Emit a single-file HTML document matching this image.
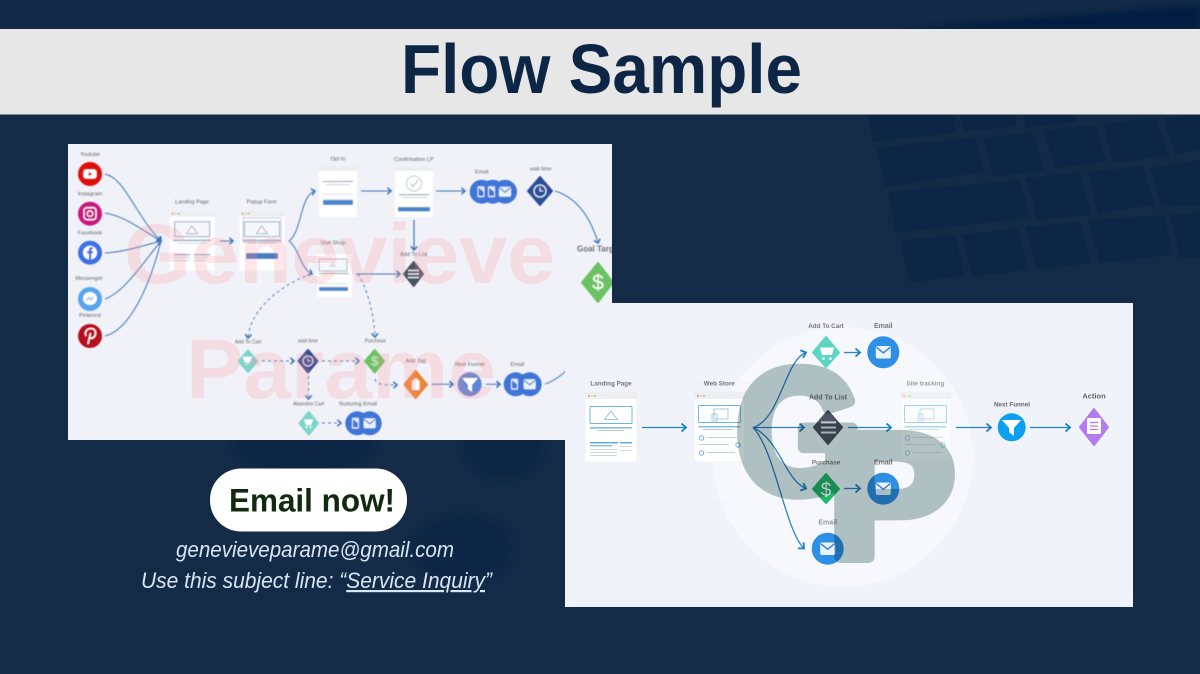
<!DOCTYPE html>
<html lang="en"><head><meta charset="utf-8"><title>Flow Sample</title>
<style>html,body{margin:0;padding:0;background:#142b47}svg{display:block}text{font-family:"Liberation Sans",sans-serif}</style></head>
<body>
<svg width="1200" height="674" viewBox="0 0 1200 674" xmlns="http://www.w3.org/2000/svg">
<defs>
<clipPath id="card1"><rect x="68" y="144" width="544" height="296"/></clipPath>
<filter id="b1" x="-5%" y="-5%" width="110%" height="110%"><feGaussianBlur stdDeviation="0.45"/></filter>
<filter id="b2" x="-5%" y="-5%" width="110%" height="110%"><feGaussianBlur stdDeviation="0.3"/></filter>
<filter id="b3" x="-20%" y="-20%" width="140%" height="140%"><feGaussianBlur stdDeviation="3"/></filter>
<marker id="a" viewBox="0 0 8 10" refX="6" refY="5" markerWidth="7" markerHeight="8" markerUnits="userSpaceOnUse" orient="auto"><path d="M1.5 1L6 5L1.5 9" fill="none" stroke="#3f74b8" stroke-width="2"/></marker>
<marker id="c" viewBox="0 0 8 10" refX="6" refY="5" markerWidth="8" markerHeight="10" markerUnits="userSpaceOnUse" orient="auto"><path d="M1.5 1L6 5L1.5 9" fill="none" stroke="#1f7fc0" stroke-width="1.8"/></marker>
<g id="mail"><rect x="-6" y="-5" width="12" height="10" rx="1.5" fill="#fff" opacity=".9"/><path d="M-5.500 -4L0 0.500L5.500 -4" fill="none" stroke="#3f7fe0" stroke-width="1.200"/></g>
<g id="phone"><rect x="-3.500" y="-5.500" width="7" height="11" rx="1" fill="#dfe8f7"/><path d="M-2.500 -4L2.500 0V4H-2.500Z" fill="#3f74d8"/></g>
<g id="win1"><rect width="45" height="60" fill="#fff"/><rect width="45" height="6" fill="#eceef2"/><circle cx="3" cy="3" r=".9" fill="#e66"/><circle cx="6" cy="3" r=".9" fill="#ec6"/><circle cx="9" cy="3" r=".9" fill="#6c6"/><rect x="5" y="11" width="35" height="15" fill="#f5f7fb" stroke="#6b93c4" stroke-width=".8"/><path d="M17 23L22 15L28 23Z" fill="none" stroke="#889" stroke-width=".6"/><rect x="4" y="29" width="37" height="1.200" fill="#6a95c8"/><rect x="8" y="32" width="29" height=".8" fill="#bcc8d8"/></g>
</defs>

<!-- background -->
<rect width="1200" height="674" fill="#142b47"/>
<rect width="1200" height="29" fill="#122a47"/>
<path d="M900 29L1200 5V29Z" fill="#041f3f" filter="url(#b3)"/>
<g fill="#0e2845" filter="url(#b2)">
<polygon points="868,115 955,115 955,133 873,142"/><polygon points="960,115 1015,115 1016,126 964,132"/><polygon points="1022,115 1075,115 1076,122 1026,128"/>
<polygon points="877,148 975,137 985,172 885,187"/><polygon points="983,138 1033,132 1045,170 993,177"/><polygon points="1043,130 1095,125 1107,162 1055,168"/><polygon points="1103,124 1155,118 1170,155 1113,163"/><polygon points="1163,118 1200,114 1200,150 1175,154"/>
<polygon points="888,192 1020,180 1030,218 895,233"/><polygon points="1026,178 1080,172 1092,215 1037,220"/><polygon points="1088,172 1142,166 1155,205 1098,213"/><polygon points="1150,168 1200,160 1200,205 1162,207"/>
<polygon points="900,240 955,235 965,275 910,283"/><polygon points="962,235 1018,228 1028,270 973,277"/><polygon points="1025,227 1080,222 1092,263 1037,270"/><polygon points="1088,220 1165,215 1172,255 1100,263"/><polygon points="1170,215 1200,212 1200,258 1180,258"/>
</g>
<g fill="#112845" filter="url(#b3)"><ellipse cx="304" cy="445" rx="72" ry="32"/><ellipse cx="503" cy="445" rx="42" ry="35"/><ellipse cx="462" cy="548" rx="52" ry="34"/></g>

<!-- banner -->
<rect x="0" y="29" width="1200" height="85.500" fill="#e7e7e7"/>
<text x="401" y="93" font-size="70" font-weight="700" fill="#0d2646" textLength="401" lengthAdjust="spacingAndGlyphs">Flow Sample</text>

<!-- CARD 1 -->
<rect x="68" y="144" width="544" height="296" fill="#f0f2f8"/>
<g clip-path="url(#card1)">
<g filter="url(#b1)">
<g font-size="5.500" fill="#666" text-anchor="middle">
<text x="90" y="156">Youtube</text><text x="90" y="195.500">Instagram</text><text x="90" y="234.500">Facebook</text><text x="89" y="280">Messenger</text><text x="90" y="317">Pinterest</text>
<text x="192" y="203.700">Landing Page</text><text x="261.700" y="203.700">Popup Form</text><text x="338" y="160.700">Opt In</text><text x="414" y="161">Confirmation LP</text><text x="481.700" y="173.300">Email</text><text x="540.700" y="170.700">wait time</text><text x="333" y="244.700">Visit Shop</text><text x="413.700" y="256">Add To List</text>
<text x="248" y="343.700" font-size="5">Add To Cart</text><text x="308" y="342.300" font-size="5">wait time</text><text x="375.300" y="342.300" font-size="5">Purchase</text><text x="415.700" y="362.700">Add Tag</text><text x="469.700" y="366">Next Funnel</text><text x="517.300" y="366">Email</text><text x="308.700" y="405.300" font-size="5">Abandon Cart</text><text x="358" y="405.300">Nurturing Email</text>
</g>
<text x="577" y="251.500" font-size="8" font-weight="700" fill="#6a6f76">Goal Target</text>

<!-- connectors -->
<g fill="none" stroke="#3f74b8" stroke-width="1">
<path d="M105 174C125 178 135 215 161 241" marker-end="url(#a)"/>
<path d="M105 213C125 216 145 232 161 241" marker-end="url(#a)"/>
<path d="M105 253C125 252 145 245 161 241" marker-end="url(#a)"/>
<path d="M105 299C125 292 145 260 161 241"/>
<path d="M105 336C130 330 150 285 161 241"/>
<path d="M220 241H233" marker-end="url(#a)"/>
<path d="M289 241C302 232 300 195 315 191" marker-end="url(#a)"/>
<path d="M289 241C300 250 300 268 312 274" marker-end="url(#a)"/>
<path d="M361 191H391" marker-end="url(#a)"/><path d="M436 191H465" marker-end="url(#a)"/>
<path d="M414 220V250" marker-end="url(#a)" stroke-width="1.200"/><path d="M356 274H400" marker-end="url(#a)"/>
<path d="M555 191C575 197 590 215 598 243" marker-end="url(#a)"/>
<path d="M432 384.300H453" marker-end="url(#a)"/><path d="M486 384.300H500" marker-end="url(#a)"/>
<path d="M545 384C552 382 558 378 566 371"/>
</g>
<g fill="none" stroke="#4f7fb8" stroke-width="1" stroke-dasharray="3 3">
<path d="M311 274C280 285 250 310 248 338" marker-end="url(#a)"/>
<path d="M358 274C368 290 374 315 375 337" marker-end="url(#a)"/>
<path d="M262 361H294" marker-end="url(#a)"/><path d="M322 361H359" marker-end="url(#a)"/>
<path d="M308.500 376V399" marker-end="url(#a)"/><path d="M375 379C376 385 385 385 397 385" marker-end="url(#a)"/>
<path d="M322 423H341" marker-end="url(#a)"/>
</g>

<!-- source icons -->
<circle cx="90" cy="174" r="12" fill="#e00b0b"/><rect x="83.500" y="169.500" width="13" height="9" rx="2.500" fill="#fff"/><path d="M88.500 171.700L92.500 174L88.500 176.300Z" fill="#d11"/>
<circle cx="90" cy="213.700" r="12" fill="#cb1480"/><rect x="84" y="207.700" width="12" height="12" rx="3" fill="none" stroke="#fff" stroke-width="1.300"/><circle cx="90" cy="213.700" r="2.800" fill="none" stroke="#fff" stroke-width="1.200"/>
<circle cx="90" cy="252.700" r="12" fill="#3a6fe6"/><circle cx="90" cy="252.700" r="7" fill="#fff"/><path d="M89 261V253.500H87V251H89V249.500C89 247.500 90.500 247 92.800 247.300V249.300C91.500 249.200 91.200 249.500 91.200 250.200V251H93L92.600 253.500H91.200V261Z" fill="#3a6fe6"/>
<circle cx="90" cy="299" r="12" fill="#57a5ee"/><ellipse cx="90" cy="298.500" rx="7" ry="6.500" fill="#fff"/><path d="M85.500 301L88.500 297L91 299L94.500 296L91.500 300.500L89 298.500Z" fill="#3f8ae0"/>
<circle cx="90" cy="336" r="12" fill="#b9111f"/><path d="M88 344L90.500 333M86 336C84 331 88 328.500 91 328.500C95 328.500 96.500 332 95 335.500C94 338 91 339 89.500 337.500" fill="none" stroke="#fff" stroke-width="1.600"/>

<!-- windows -->
<use href="#win1" x="169.700" y="210.700"/>
<g fill="#b9c8dc"><rect x="174" y="254" width="16" height="1.200" fill="#6a95c8"/><rect x="174" y="257" width="16" height="1"/><rect x="174" y="260" width="14" height="1"/><rect x="194" y="254" width="16" height="1.200" fill="#6a95c8"/><rect x="194" y="257" width="14" height="1"/><rect x="194" y="260" width="12" height="1"/></g>
<use href="#win1" x="239.500" y="210.700"/><rect x="243" y="218" width="38" height="24" fill="none" stroke="#8ea4bf" stroke-width=".6"/><rect x="246" y="253" width="32" height="6" fill="#4a7cc0"/>
<rect x="319" y="166" width="38" height="51" fill="#fff"/><rect x="319" y="166" width="38" height="5" fill="#eceef2"/><rect x="323" y="181" width="30" height="1" fill="#7d93a8"/><rect x="326" y="184" width="24" height="1" fill="#c7d0da"/><rect x="323" y="194" width="30" height=".8" fill="#d5dbe3"/><rect x="323" y="199" width="30" height=".8" fill="#d5dbe3"/><rect x="323" y="200" width="30" height="5" fill="#4a86cc"/>
<rect x="395" y="166" width="38" height="51" fill="#fff"/><rect x="395" y="166" width="38" height="5" fill="#eceef2"/><circle cx="414" cy="183.500" r="7.500" fill="none" stroke="#b5ccc5"/><path d="M410.500 183.500L413 186.500L418 180" fill="none" stroke="#9dc2b2"/><rect x="399" y="194" width="30" height="1.300" fill="#9fb3b0"/><rect x="401" y="197" width="26" height="1" fill="#ccd"/><rect x="398" y="207" width="32" height="4.500" fill="#4a86cc"/>
<rect x="317" y="250" width="35" height="47" fill="#fff"/><rect x="317" y="250" width="35" height="4" fill="#eceef2"/><rect x="319" y="259" width="28" height="12" fill="#f5f7fb" stroke="#7e94b0" stroke-width=".7"/><path d="M329 267L333 262L337 267Z" fill="#ddd"/><rect x="319" y="273" width="30" height="1" fill="#7d93a8"/><rect x="319" y="283" width="30" height=".8" fill="#d5dbe3"/><rect x="319" y="287" width="29" height="4" fill="#4a86cc"/>

<!-- nodes -->
<g fill="#3f74d8"><circle cx="481.700" cy="191.700" r="12"/><circle cx="492.700" cy="191.700" r="12"/><circle cx="505" cy="191.700" r="12"/></g>
<use href="#phone" x="481" y="191.700"/><use href="#phone" x="491.500" y="191.700"/><use href="#mail" x="505" y="191.700"/>
<path d="M540 177L552 191L540 205L528 191Z" fill="#2c5096" stroke="#2c5096" stroke-width="2" stroke-linejoin="round"/><circle cx="540" cy="191" r="6" fill="none" stroke="#dfe8f5" stroke-width="1.300"/><path d="M540 187.500V191H543" fill="none" stroke="#dfe8f5"/>
<path d="M413.700 262L423 274L413.700 286L404 274Z" fill="#4a5260" stroke="#4a5260" stroke-width="2" stroke-linejoin="round"/><path d="M408 270.500H419M408 274H419M408 277.500H419" stroke="#e8ebef" stroke-width="1.400"/>
<path d="M598 263L613 282.500L598 302L582 282.500Z" fill="#6cc264" stroke="#6cc264" stroke-width="2" stroke-linejoin="round"/>
<text x="598" y="289.500" font-size="21" fill="#fff" text-anchor="middle">$</text>

<path d="M248 350.500L257 361.300L248 372L239 361.300Z" fill="#7cd4cb" stroke="#7cd4cb" stroke-linejoin="round" stroke-width="2"/><path d="M243 357H252L250 362.500H245ZM245 364.500H250" fill="#fff" stroke="#fff" stroke-width=".5"/>
<path d="M308 350L317.500 361L308 372.500L298.500 361Z" fill="#2f4d93" stroke="#2f4d93" stroke-linejoin="round" stroke-width="2"/><circle cx="308" cy="361" r="5" fill="none" stroke="#dfe8f5"/><path d="M308 358V361H310.500" fill="none" stroke="#dfe8f5" stroke-width=".8"/>
<path d="M374.700 350L384 361L374.700 372.500L365 361Z" fill="#6cc264" stroke="#6cc264" stroke-linejoin="round" stroke-width="2"/><text x="374.700" y="365.500" font-size="13" fill="#d5ecd0" text-anchor="middle">$</text>
<path d="M415.700 371L427 384.500L415.700 398L404.500 384.500Z" fill="#ec8430" stroke="#ec8430" stroke-linejoin="round" stroke-width="2"/><path d="M412 381L415.700 378L419.500 381V390H412Z" fill="#fff"/>
<circle cx="469.700" cy="384.300" r="12" fill="#5b86d8"/><path d="M462 378H478L472 385V392L468 389V385Z" fill="#fff"/>
<g fill="#3f74d8"><circle cx="515.700" cy="384.300" r="12"/><circle cx="529.700" cy="384.300" r="12"/></g><use href="#phone" x="514.500" y="384.300"/><use href="#mail" x="529.700" y="384.300"/>
<path d="M308.700 412L318 423.300L308.700 434.500L299.500 423.300Z" fill="#7cd4cb" stroke="#7cd4cb" stroke-linejoin="round" stroke-width="2"/><path d="M304 419.500H313L311 425H306Z" fill="#fff"/><circle cx="306.500" cy="427" r="1" fill="#fff"/><circle cx="310.500" cy="427" r="1" fill="#fff"/>
<g fill="#3f74d8"><circle cx="357.300" cy="423.300" r="12"/><circle cx="369.700" cy="423.300" r="12"/></g><use href="#phone" x="355.500" y="423.300"/><use href="#mail" x="369.700" y="423.300"/>
</g>
<!-- watermark -->
<g fill="#ff8f96" fill-opacity=".22" font-weight="700" filter="url(#b2)">
<text x="124" y="283" font-size="84" textLength="431" lengthAdjust="spacingAndGlyphs">Genevieve</text>
<text x="186" y="398" font-size="84" textLength="310" lengthAdjust="spacingAndGlyphs">Parame</text>
</g>
</g>

<!-- CARD 2 -->
<rect x="565" y="303" width="568" height="304" fill="#f0f3f9"/>
<path d="M565 383H1133M565 503H1133" stroke="#eceff5"/>
<circle cx="843" cy="457" r="130" fill="#fff" fill-opacity=".4"/>
<g filter="url(#b2)">
<g id="lp"><rect x="585" y="392" width="52" height="70" fill="#fff" stroke="#eef0f4"/><rect x="585" y="392" width="52" height="7" fill="#eceef2"/><circle cx="589" cy="396" r=".9" fill="#e66"/><circle cx="592" cy="396" r=".9" fill="#ec6"/><circle cx="595" cy="396" r=".9" fill="#6c6"/><rect x="590" y="406.500" width="42" height="17" rx="1" fill="none" stroke="#6fb2df" stroke-width=".9"/><path d="M604.500 419.500L611 411L617.500 419.500Z" fill="none" stroke="#7fb6d9" stroke-width=".8"/><rect x="590" y="427" width="42" height="1.600" fill="#82bee6"/><rect x="598" y="430" width="26" height="1" fill="#b8c6d4"/><rect x="590" y="442" width="28" height="1.400" fill="#5aa7e2"/><rect x="590" y="445" width="22" height="1.400" fill="#82bee6"/><rect x="590" y="449" width="27" height=".8" fill="#c5cfd9"/><rect x="590" y="452" width="27" height=".8" fill="#c5cfd9"/><rect x="590" y="455" width="27" height=".8" fill="#c5cfd9"/><rect x="620" y="442" width="12" height="1.400" fill="#5aa7e2"/><rect x="620" y="446" width="12" height=".8" fill="#c5cfd9"/><rect x="620" y="450" width="12" height=".8" fill="#c5cfd9"/></g>
<g id="ws"><rect x="694" y="392" width="51" height="70" fill="#fff" stroke="#eef0f4"/><rect x="694" y="392" width="51" height="7" fill="#eceef2"/><circle cx="698" cy="396" r=".9" fill="#e66"/><circle cx="701" cy="396" r=".9" fill="#ec6"/><circle cx="704" cy="396" r=".9" fill="#6c6"/><rect x="698.500" y="405.500" width="42" height="17" rx="1" fill="none" stroke="#6fb2df" stroke-width=".9"/><rect x="714" y="409" width="14" height="10" fill="none" stroke="#7fb6d9" stroke-width=".7"/><rect x="712" y="414" width="5" height="7" fill="none" stroke="#7fb6d9" stroke-width=".7"/><rect x="698.500" y="426" width="42" height="1.500" fill="#82bee6"/><rect x="703" y="429" width="30" height="1" fill="#b8c6d4"/><circle cx="701.500" cy="438" r="2.200" fill="none" stroke="#6fb2df"/><rect x="707" y="437" width="30" height="1" fill="#c5cfd9"/><rect x="699" y="444" width="30" height="1" fill="#c5cfd9"/><circle cx="738" cy="445" r="2.200" fill="none" stroke="#6fb2df"/><circle cx="701.500" cy="453" r="2.200" fill="none" stroke="#6fb2df"/><rect x="707" y="452" width="28" height="1" fill="#c5cfd9"/></g>
<g opacity=".6"><rect x="900" y="392" width="51" height="70" fill="#fff" stroke="#eef0f4"/><rect x="900" y="392" width="51" height="7" fill="#eceef2"/><circle cx="904" cy="396" r=".9" fill="#e66"/><circle cx="907" cy="396" r=".9" fill="#ec6"/><circle cx="910" cy="396" r=".9" fill="#6c6"/><rect x="904.500" y="405.500" width="42" height="17" rx="1" fill="none" stroke="#6fb2df" stroke-width=".9"/><rect x="920" y="409" width="14" height="10" fill="none" stroke="#7fb6d9" stroke-width=".7"/><rect x="918" y="414" width="5" height="7" fill="none" stroke="#7fb6d9" stroke-width=".7"/><rect x="904.500" y="426" width="42" height="1.500" fill="#82bee6"/><rect x="909" y="429" width="30" height="1" fill="#b8c6d4"/><circle cx="907.500" cy="438" r="2.200" fill="none" stroke="#6fb2df"/><rect x="913" y="437" width="30" height="1" fill="#c5cfd9"/><rect x="905" y="444" width="30" height="1" fill="#c5cfd9"/><circle cx="943" cy="445" r="2.200" fill="none" stroke="#6fb2df"/><circle cx="907.500" cy="453" r="2.200" fill="none" stroke="#6fb2df"/><rect x="913" y="452" width="28" height="1" fill="#c5cfd9"/></g>

<g fill="none" stroke="#2b83c4" stroke-width="1.300">
<path d="M642 427.500H686" marker-end="url(#c)"/>
<path d="M753 427.500C780 420 785 360 806 352.500" marker-end="url(#c)"/>
<path d="M753 427.500H804" marker-end="url(#c)"/>
<path d="M753 427.500C780 440 785 480 806 488.500" marker-end="url(#c)"/>
<path d="M753 427.500C775 450 785 530 804 548.500" marker-end="url(#c)"/>
<path d="M844 352.500H860" marker-end="url(#c)"/><path d="M844 488.500H860" marker-end="url(#c)"/>
<path d="M848 427.500H891" marker-end="url(#c)"/><path d="M956 427.500H991" marker-end="url(#c)"/><path d="M1030 427.500H1070" marker-end="url(#c)"/>
</g>

<path d="M826 337L839 352.500L826 367L813 352.500Z" fill="#5bd6c2" stroke="#5bd6c2" stroke-linejoin="round" stroke-width="2"/><path d="M820 347.500H834L832 355H822Z" fill="#fff"/><circle cx="823.500" cy="358.500" r="1.300" fill="#fff"/><circle cx="830.500" cy="358.500" r="1.300" fill="#fff"/>
<path d="M828 411L842 427.300L828 444L814 427.300Z" fill="#4d5562" stroke="#4d5562" stroke-linejoin="round" stroke-width="2"/><path d="M821 422.500H836M821 427.500H836M821 432.500H836" stroke="#e4e7ec" stroke-width="2"/>
<path d="M826 474L839 489L826 503L813 489Z" fill="#21b56c" stroke="#21b56c" stroke-linejoin="round" stroke-width="2"/><text x="826" y="496" font-size="19" fill="#fff" text-anchor="middle">$</text>
<circle cx="883.300" cy="352.300" r="16" fill="#2f8fe6"/><use href="#mail" transform="translate(883.300 352.300) scale(1.250)"/>
<circle cx="883.300" cy="488.700" r="16" fill="#2f8fe6"/><use href="#mail" transform="translate(883.300 488.700) scale(1.250)"/>
<circle cx="827.700" cy="548.700" r="16" fill="#2f8fe6"/><use href="#mail" transform="translate(827.700 548.700) scale(1.250)"/>
<circle cx="1011.700" cy="427.300" r="14" fill="#08a0ef"/><path d="M1002 420H1021L1014 428V436L1009 432V428Z" fill="#fff"/>
<path d="M1094 409L1108 427.300L1094 445L1080 427.300Z" fill="#b27cf0" stroke="#b27cf0" stroke-linejoin="round" stroke-width="2"/><rect x="1087" y="418" width="14" height="16" rx="1.500" fill="#fff"/><path d="M1090 422.500H1098M1090 426H1098M1090 429.500H1098" stroke="#b27cf0" stroke-width="1.300"/>
<g font-size="6.300" font-weight="700" fill="#777" text-anchor="middle">
<text x="611" y="385.500">Landing Page</text><text x="719.300" y="385.500">Web Store</text><text x="826" y="328">Add To Cart</text><text x="883.300" y="328" font-size="7">Email</text><text x="828" y="399.500" font-size="7">Add To List</text><text x="925.300" y="385.500" fill="#9a9ea4">Site tracking</text><text x="826" y="464.500">Purchase</text><text x="883.300" y="464.500" font-size="7">Email</text><text x="827.700" y="524.500" font-size="7" fill="#999">Email</text><text x="1012" y="406.500" fill="#666">Next Funnel</text><text x="1094" y="398.500" font-size="7.500" fill="#666">Action</text>
</g>
</g>
<!-- GP logo -->
<g fill="#b6c6c5" stroke="#b6c6c5" stroke-width="12" stroke-linejoin="round" font-weight="700" style="mix-blend-mode:multiply">
<text x="736" y="492" font-size="175" textLength="126" lengthAdjust="spacingAndGlyphs">G</text>
<text x="828" y="557" font-size="176" textLength="127" lengthAdjust="spacingAndGlyphs">P</text>
</g>

<!-- CTA -->
<rect x="210" y="468.500" width="197" height="63" rx="31" fill="#fff"/>
<text x="229" y="511.500" font-size="32" font-weight="700" fill="#10290f" textLength="166" lengthAdjust="spacingAndGlyphs">Email now!</text>
<text x="176" y="557" font-size="22" font-style="italic" fill="#d8e6f3" textLength="278" lengthAdjust="spacingAndGlyphs">genevieveparame@gmail.com</text>
<text x="141" y="588" font-size="22" font-style="italic" fill="#d8e6f3" textLength="351" lengthAdjust="spacingAndGlyphs">Use this subject line: “<tspan text-decoration="underline">Service Inquiry</tspan>”</text>
</svg>
</body></html>
